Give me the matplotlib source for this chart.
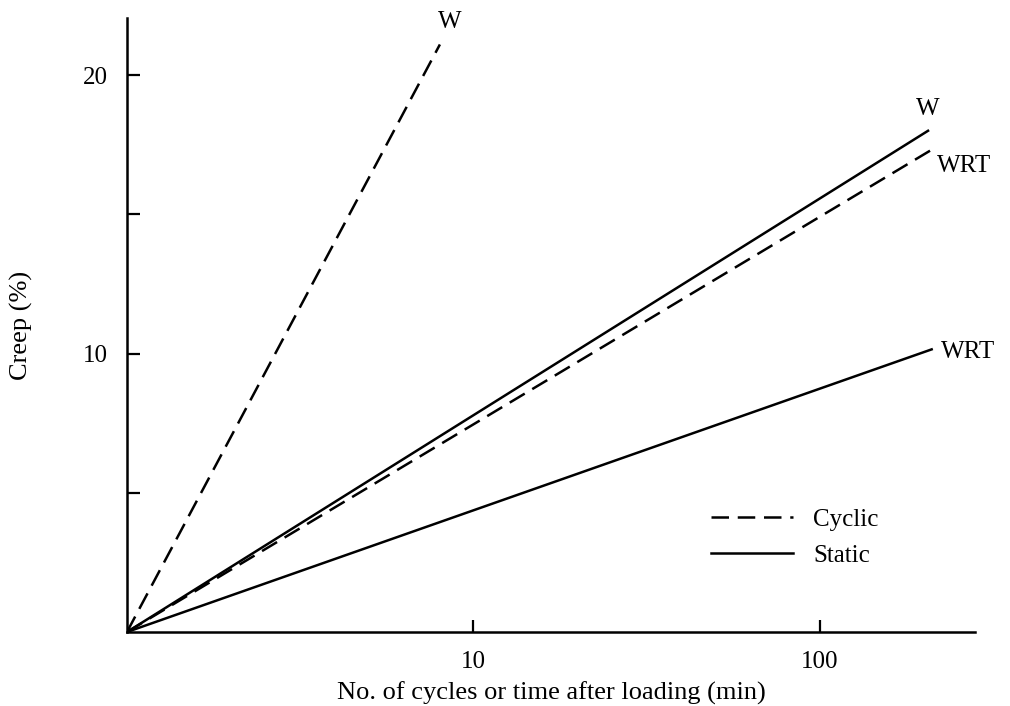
import matplotlib
matplotlib.use("Agg")
import matplotlib.pyplot as plt
from matplotlib.lines import Line2D

plt.rcParams['font.family'] = ['Liberation Serif', 'DejaVu Serif']

# Creep lines on a log time axis, each running from (1, 0) to its end point
cyclic_w_x = [1, 8.0]
cyclic_w_y = [0, 21.1]
cyclic_wrt_x = [1, 212]
cyclic_wrt_y = [0, 17.35]
static_w_x = [1, 205]
static_w_y = [0, 18.0]
static_wrt_x = [1, 210]
static_wrt_y = [0, 10.15]

x_ticks = [10, 100]
x_ticklabels = ['10', '100']
y_ticks = [5, 10, 15, 20]
y_ticklabels = ['', '10', '', '20']

fig = plt.figure(figsize=(10.10, 7.06), dpi=100)
ax = fig.add_axes([0.1257, 0.1048, 0.8396, 0.8697])

lw = 1.8
dash = (0, (7, 3.5))
ax.plot(cyclic_w_x, cyclic_w_y, color='black', lw=lw, linestyle=dash)
ax.plot(cyclic_wrt_x, cyclic_wrt_y, color='black', lw=lw, linestyle=dash)
ax.plot(static_w_x, static_w_y, color='black', lw=lw)
ax.plot(static_wrt_x, static_wrt_y, color='black', lw=lw)

fs = 18
ax.annotate('W', (cyclic_w_x[1], cyclic_w_y[1]), xytext=(7, 16), textcoords='offset points',
            ha='center', va='center', fontsize=fs)
ax.annotate('W', (static_w_x[1], static_w_y[1]), xytext=(0, 16), textcoords='offset points',
            ha='center', va='center', fontsize=fs)
ax.annotate('WRT', (cyclic_wrt_x[1], cyclic_wrt_y[1]), xytext=(3, -12), textcoords='offset points',
            ha='left', va='center', fontsize=fs)
ax.annotate('WRT', (static_wrt_x[1], static_wrt_y[1]), xytext=(7, -2), textcoords='offset points',
            ha='left', va='center', fontsize=fs)

ax.set_xscale('log')
ax.set_xlim(1, 280)
ax.set_ylim(0, 22.05)
ax.set_xticks(x_ticks)
ax.set_xticklabels(x_ticklabels)
ax.xaxis.set_minor_locator(matplotlib.ticker.NullLocator())
ax.set_yticks(y_ticks)
ax.set_yticklabels(y_ticklabels)

ax.tick_params(axis='y', direction='in', length=9, width=1.6, labelsize=fs, pad=14)
ax.tick_params(axis='x', direction='in', length=9, width=1.6, labelsize=fs, pad=14)
for s in ['top', 'right']:
    ax.spines[s].set_visible(False)
for s in ['left', 'bottom']:
    ax.spines[s].set_linewidth(1.8)

ax.set_xlabel('No. of cycles or time after loading (min)', fontsize=fs + 1, labelpad=6)
ax.set_ylabel('Creep (%)', fontsize=fs + 1, labelpad=36)

handles = [Line2D([], [], color='black', lw=lw, linestyle=dash),
           Line2D([], [], color='black', lw=lw)]
ax.legend(handles, ['Cyclic', 'Static'], loc='upper left', bbox_to_anchor=(0.662, 0.2385),
          frameon=False, fontsize=fs, handlelength=3.3, handletextpad=0.8, labelspacing=0.55)

fig.savefig('out.png', dpi=100)
